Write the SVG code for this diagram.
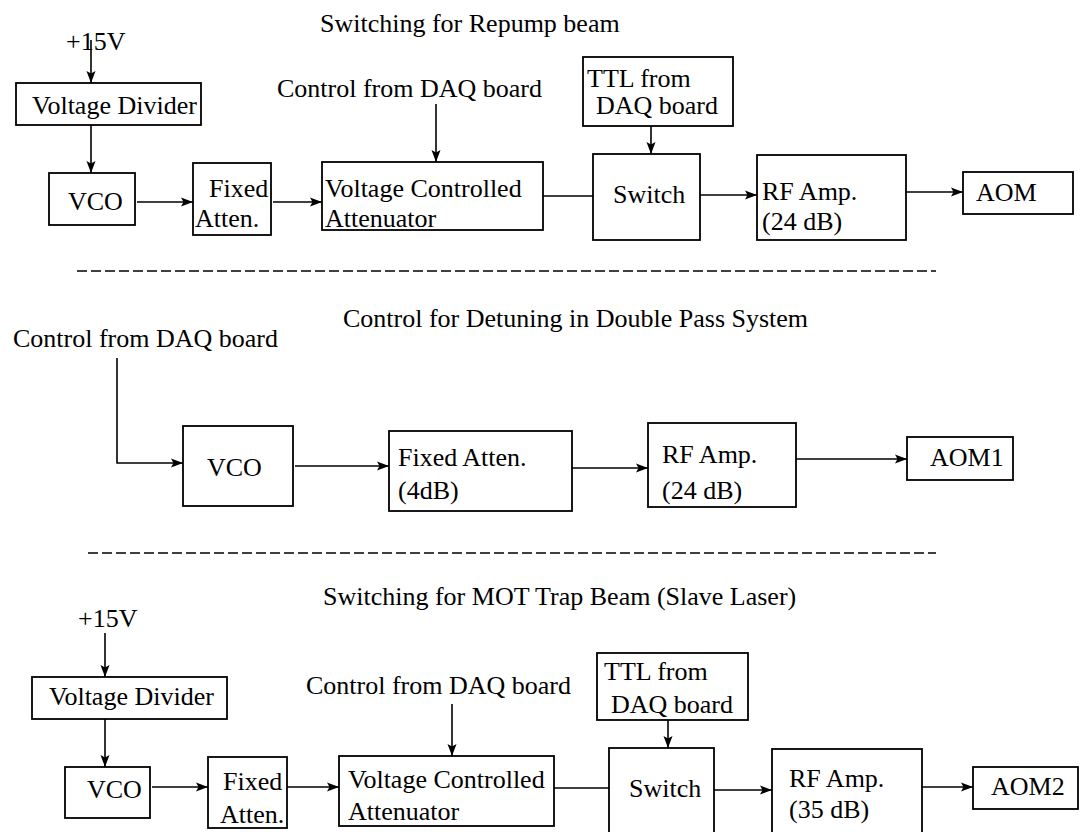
<svg xmlns="http://www.w3.org/2000/svg" width="1084" height="832" viewBox="0 0 1084 832">
<style>
  text { font-family: 'Liberation Serif', 'DejaVu Serif', 'Noto Serif', 'Times New Roman', Times, serif; font-size: 26px; fill: #000; }
  .box { fill: #fff; stroke: #000; stroke-width: 1.8; }
  .ln { fill: none; stroke: #000; stroke-width: 1.6; }
  .arr { fill: none; stroke: #000; stroke-width: 1.6; marker-end: url(#ah); }
  .dash { fill: none; stroke: #000; stroke-width: 1.4; stroke-dasharray: 10 4; }
</style>
<defs>
  <marker id="ah" markerUnits="userSpaceOnUse" markerWidth="12" markerHeight="10" refX="12" refY="5" orient="auto">
    <path d="M0,0.5 L12,5 L0,9.5 L2.5,5 z" fill="#000"/>
  </marker>
</defs>
<rect width="1084" height="832" fill="#fff"/>
<g font-family="Liberation Serif, DejaVu Serif, serif">
<!-- Section 1: Switching for Repump beam -->
<g id="title1"><text x="320" y="32">Switching for Repump beam</text></g>
<g id="t-15v"><text x="66" y="50">+15V</text></g>
<g id="t-vd"><rect class="box" x="16" y="83" width="185" height="42"/><text x="32" y="114">Voltage Divider</text></g>
<g id="t-vco"><rect class="box" x="49" y="173" width="86" height="52"/><text x="68" y="210">VCO</text></g>
<g id="t-fixed"><rect class="box" x="193" y="163" width="78" height="72"/><text x="209" y="197">Fixed</text><text x="195" y="227">Atten.</text></g>
<g id="t-vca"><rect class="box" x="322" y="162" width="221" height="68"/><text x="325" y="197">Voltage Controlled</text><text x="325" y="227">Attenuator</text></g>
<g id="t-ctrl"><text x="277" y="97">Control from DAQ board</text></g>
<g id="t-ttl"><rect class="box" x="583" y="57" width="150" height="69"/><text x="587" y="87">TTL from</text><text x="596" y="114">DAQ board</text></g>
<g id="t-switch"><rect class="box" x="593" y="154" width="107" height="86"/><text x="613" y="203">Switch</text></g>
<g id="t-rf"><rect class="box" x="757" y="155" width="149" height="85"/><text x="762" y="200">RF Amp.</text><text x="762" y="230">(24 dB)</text></g>
<g id="t-aom"><rect class="box" x="963" y="172" width="110" height="42"/><text x="976" y="201">AOM</text></g>

<line class="dash" x1="77" y1="271" x2="936" y2="271"/>

<!-- Section 2: Control for Detuning -->
<g id="title2"><text x="343" y="327">Control for Detuning in Double Pass System</text></g>
<g id="m-ctrl"><text x="13" y="347">Control from DAQ board</text></g>
<g id="m-vco"><rect class="box" x="183" y="426" width="110" height="80"/><text x="207" y="476">VCO</text></g>
<g id="m-fixed"><rect class="box" x="389" y="431" width="183" height="80"/><text x="398" y="466">Fixed Atten.</text><text x="398" y="499">(4dB)</text></g>
<g id="m-rf"><rect class="box" x="648" y="423" width="148" height="84"/><text x="662" y="463">RF Amp.</text><text x="662" y="499">(24 dB)</text></g>
<g id="m-aom1"><rect class="box" x="907" y="437" width="106" height="43"/><text x="930" y="466">AOM1</text></g>

<line class="dash" x1="88" y1="553" x2="936" y2="553"/>

<!-- Section 3: Switching for MOT Trap Beam -->
<g id="title3"><text x="323" y="605">Switching for MOT Trap Beam (Slave Laser)</text></g>
<g id="b-15v"><text x="78" y="627">+15V</text></g>
<g id="b-vd"><rect class="box" x="32" y="677" width="195" height="42"/><text x="49" y="705">Voltage Divider</text></g>
<g id="b-vco"><rect class="box" x="65" y="767" width="85" height="51"/><text x="87" y="798">VCO</text></g>
<g id="b-fixed"><rect class="box" x="208" y="757" width="79" height="71"/><text x="223" y="790">Fixed</text><text x="220" y="823">Atten.</text></g>
<g id="b-vca"><rect class="box" x="339" y="756" width="215" height="70"/><text x="348" y="788">Voltage Controlled</text><text x="348" y="820">Attenuator</text></g>
<g id="b-ctrl"><text x="306" y="694">Control from DAQ board</text></g>
<g id="b-ttl"><rect class="box" x="597" y="653" width="151" height="67"/><text x="604" y="680">TTL from</text><text x="611" y="713">DAQ board</text></g>
<g id="b-switch"><rect class="box" x="609" y="748" width="105" height="100"/><text x="629" y="797">Switch</text></g>
<g id="b-rf"><rect class="box" x="772" y="749" width="150" height="100"/><text x="789" y="787">RF Amp.</text><text x="789" y="818">(35 dB)</text></g>
<g id="b-aom2"><rect class="box" x="973" y="767" width="105" height="42"/><text x="991" y="795">AOM2</text></g>
</g>
<g id="connectors">
  <line class="arr" x1="91" y1="40" x2="91" y2="83"/>
  <line class="arr" x1="91" y1="125" x2="91" y2="173"/>
  <line class="arr" x1="137" y1="202" x2="193" y2="202"/>
  <line class="arr" x1="273" y1="202" x2="322" y2="202"/>
  <line class="arr" x1="436" y1="104" x2="436" y2="162"/>
  <line class="ln" x1="543" y1="196" x2="593" y2="196"/>
  <line class="arr" x1="651" y1="126" x2="651" y2="154"/>
  <line class="arr" x1="700" y1="195" x2="757" y2="195"/>
  <line class="arr" x1="906" y1="192" x2="963" y2="192"/>

  <polyline class="arr" points="117,358 117,463 183,463"/>
  <line class="arr" x1="295" y1="466" x2="389" y2="466"/>
  <line class="arr" x1="572" y1="468" x2="648" y2="468"/>
  <line class="arr" x1="796" y1="459" x2="907" y2="459"/>

  <line class="arr" x1="105" y1="633" x2="105" y2="677"/>
  <line class="arr" x1="105" y1="719" x2="105" y2="767"/>
  <line class="arr" x1="152" y1="787" x2="208" y2="787"/>
  <line class="arr" x1="287" y1="787" x2="339" y2="787"/>
  <line class="arr" x1="452" y1="704" x2="452" y2="756"/>
  <line class="arr" x1="668" y1="720" x2="668" y2="748"/>
  <line class="ln" x1="554" y1="788" x2="609" y2="788"/>
  <line class="arr" x1="714" y1="790" x2="772" y2="790"/>
  <line class="arr" x1="922" y1="787" x2="973" y2="787"/>
</g>
</svg>
